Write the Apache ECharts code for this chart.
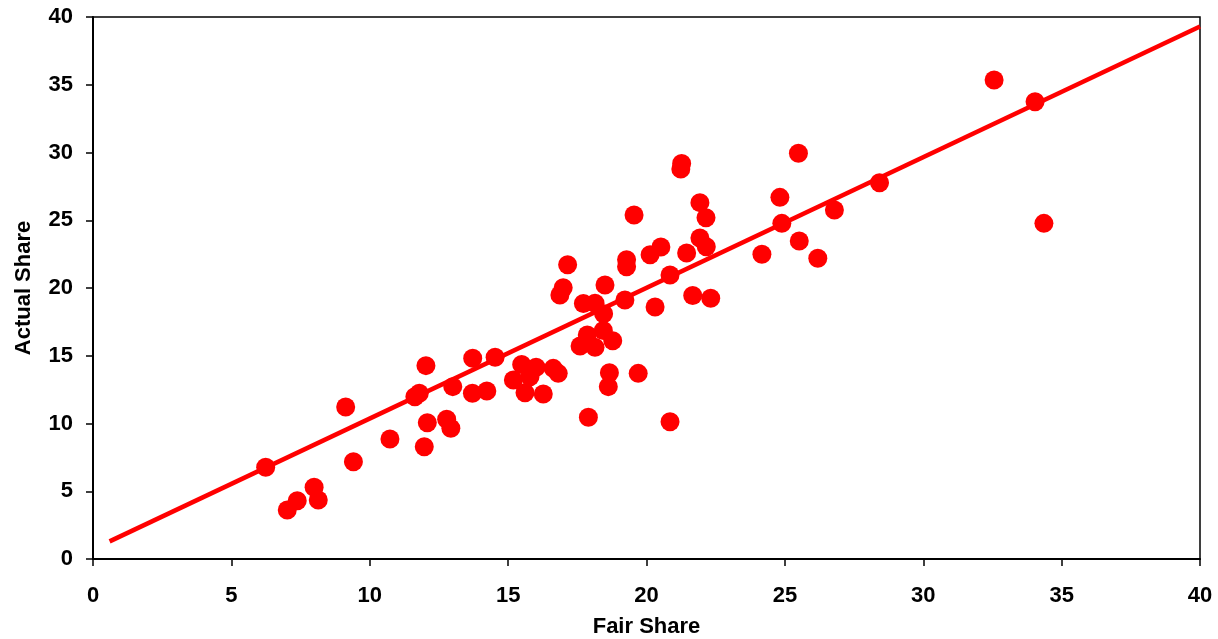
<!DOCTYPE html>
<html>
<head>
<meta charset="utf-8">
<script src="https://cdn.jsdelivr.net/npm/echarts@6/dist/echarts.min.js"></script>
<style>
html,body{margin:0;padding:0;background:#fff;}
#chart{width:1218px;height:639px;}
</style>
</head>
<body>
<div id="chart"></div>
<script>
const fairShare = [6.24,7.02,7.38,7.99,8.14,9.13,9.41,10.73,11.63,11.79,12.03,12.08,11.97,12.78,12.93,13.0,13.72,13.71,14.23,14.53,15.19,15.49,15.79,15.61,16.01,16.27,16.63,16.81,16.87,16.99,17.15,17.6,17.72,17.86,17.9,18.14,18.14,18.44,18.45,18.5,18.62,18.66,18.78,19.22,19.28,19.28,19.55,19.70,20.13,20.31,20.52,20.85,20.85,21.24,21.27,21.45,21.67,21.93,21.93,22.15,22.16,22.32,24.17,24.82,24.89,25.49,25.52,26.19,26.79,28.42,32.56,34.04,34.36];
const actualShare = [6.77,3.62,4.30,5.29,4.35,11.22,7.18,8.86,11.98,12.23,14.27,10.06,8.29,10.31,9.65,12.72,14.81,12.23,12.40,14.89,13.21,14.35,13.45,12.27,14.15,12.18,14.07,13.70,19.48,20.02,21.72,15.72,18.86,16.53,10.46,18.87,15.62,16.86,18.1,20.22,12.72,13.75,16.11,19.11,21.57,22.09,25.39,13.70,22.46,18.60,23.03,20.96,10.13,28.78,29.19,22.58,19.45,26.30,23.69,25.19,23.05,19.24,22.49,26.69,24.77,29.94,23.47,22.19,25.76,27.77,35.35,33.75,24.77];
const trendX = [0.6, 40];
const trendY = [1.3, 39.3];
const xTicks = [0,5,10,15,20,25,30,35,40];
const yTicks = [0,5,10,15,20,25,30,35,40];

const chart = echarts.init(document.getElementById('chart'), null, {renderer:'canvas'});
const font = {fontFamily:'"Liberation Sans", Arial, sans-serif', fontWeight:'bold', fontSize:22, color:'#000'};
chart.setOption({
  animation:false,
  backgroundColor:'#fff',
  grid:{left:93,right:18,top:17,bottom:80,containLabel:false,outerBoundsMode:'none',show:true,borderColor:'#000',borderWidth:1.5,backgroundColor:'transparent'},
  xAxis:{
    type:'value',min:0,max:40,interval:5,
    name:'Fair Share',nameLocation:'middle',nameGap:57,
    nameTextStyle:Object.assign({},font),
    axisLine:{show:true,onZero:false,lineStyle:{color:'#000',width:2}},
    axisTick:{show:true,inside:false,length:7,lineStyle:{color:'#000',width:1.5}},
    axisLabel:Object.assign({margin:26,formatter:v=>xTicks.includes(v)?String(v):''},font),
    splitLine:{show:false}
  },
  yAxis:{
    type:'value',min:0,max:40,interval:5,
    name:'Actual Share',nameLocation:'middle',nameGap:58,
    nameTextStyle:Object.assign({},font),
    axisLine:{show:true,onZero:false,lineStyle:{color:'#000',width:2}},
    axisTick:{show:true,inside:false,length:7,lineStyle:{color:'#000',width:1.5}},
    axisLabel:Object.assign({margin:20,formatter:v=>yTicks.includes(v)?String(v):''},font),
    splitLine:{show:false}
  },
  series:[
    {
      type:'scatter',
      data:fairShare.map((x,i)=>[x,actualShare[i]]),
      symbol:'circle',symbolSize:19,
      itemStyle:{color:'#ff0000',opacity:1},
      z:2
    },
    {
      type:'line',
      data:trendX.map((x,i)=>[x,trendY[i]]),
      symbol:'none',
      lineStyle:{color:'#ff0000',width:4.5},
      z:3
    }
  ]
});
</script>
</body>
</html>
